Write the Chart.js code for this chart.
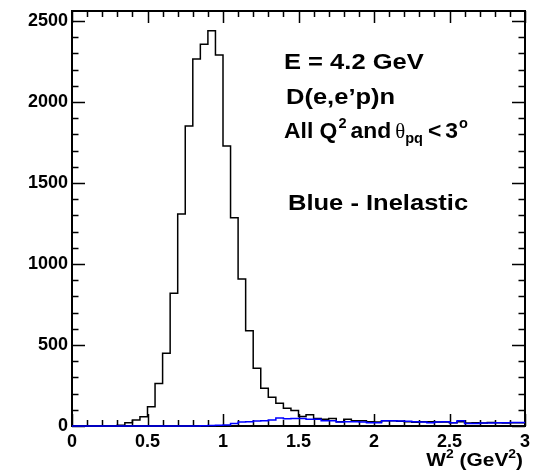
<!DOCTYPE html>
<html>
<head>
<meta charset="utf-8">
<title>W2 distribution</title>
<script src="https://cdn.jsdelivr.net/npm/chart.js@4.4.1/dist/chart.umd.min.js"></script>
<style>
  html, body { margin: 0; padding: 0; background: #fff; }
  canvas { display: block; }
</style>
</head>
<body>
<canvas id="chart" width="538" height="472"></canvas>
<script>
// W^2 histogram, 60 bins of 0.05 GeV^2 from 0 to 3
const binWidth = 0.05;
const xRange = [0, 3];
const yMax = 2562;

const allEvents = [
  0, 0, 0, 0, 0, 2, 5, 20, 37, 57,
  119, 263, 449, 819, 1309, 1852, 2265, 2356, 2440, 2290,
  1728, 1286, 907, 588, 356, 233, 177, 140, 109, 95,
  58, 70, 47, 41, 47, 27, 41, 33, 33, 27,
  25, 33, 33, 29, 27, 23, 27, 27, 25, 25,
  20, 27, 18, 20, 18, 22, 20, 18, 20, 20
];

const inelastic = [
  0, 0, 0, 0, 0, 0, 0, 0, 0, 0,
  0, 0, 0, 0, 0, 0, 0, 2, 3, 4,
  6, 16, 25, 27, 31, 33, 37, 49, 45, 47,
  47, 41, 41, 33, 33, 25, 27, 27, 25, 20,
  20, 33, 33, 31, 29, 27, 25, 20, 25, 27,
  20, 33, 16, 16, 18, 18, 20, 20, 22, 22
];

const xTickLabels = ['0', '0.5', '1', '1.5', '2', '2.5', '3'];
const yTickLabels = ['0', '500', '1000', '1500', '2000', '2500'];

// step points: one per bin low edge, plus the closing upper edge
function toSteps(counts) {
  const pts = counts.map((c, i) => ({ x: i * binWidth, y: c }));
  pts.push({ x: counts.length * binWidth, y: counts[counts.length - 1] });
  return pts;
}

const FONT = '"Liberation Sans", Arial, Helvetica, sans-serif';

// ROOT-style frame with inward ticks on all four sides
const framePlugin = {
  id: 'frame',
  beforeDatasetsDraw(chart) {
    const { ctx, chartArea: a, scales } = chart;
    const xs = scales.x, ys = scales.y;
    ctx.save();
    ctx.strokeStyle = '#000';
    ctx.lineWidth = 2;
    ctx.strokeRect(a.left, a.top, a.right - a.left, a.bottom - a.top);
    ctx.lineWidth = 1.5;
    ctx.beginPath();
    for (let k = 0; k <= 30; k++) {
      const v = k * 0.1;
      const px = Math.round(xs.getPixelForValue(v)) + 0.5;
      const len = k % 5 === 0 ? 12 : 6;
      ctx.moveTo(px, a.bottom); ctx.lineTo(px, a.bottom - len);
      ctx.moveTo(px, a.top); ctx.lineTo(px, a.top + len);
    }
    for (let v = 0; v <= yMax; v += 100) {
      const py = Math.round(ys.getPixelForValue(v)) + 0.5;
      const len = v % 500 === 0 ? 13 : 6.5;
      ctx.moveTo(a.left, py); ctx.lineTo(a.left + len, py);
      ctx.moveTo(a.right, py); ctx.lineTo(a.right - len, py);
    }
    ctx.stroke();
    ctx.restore();
  },
  afterDraw(chart) {
    const { ctx, chartArea: a } = chart;
    ctx.fillStyle = '#000';
    ctx.textBaseline = 'alphabetic';

    // draw a row of text pieces, horizontally stretched like the ROOT fonts
    const advance = (p, sx) => {
      ctx.font = p.font;
      return ctx.measureText(p.t).width * sx + (p.gap || 0);
    };
    const width = (parts, sx) => parts.reduce((w, p) => w + advance(p, sx), 0);
    const runs = (x, y, parts, sx = 1.16) => {
      let cx = x;
      for (const p of parts) {
        ctx.save();
        ctx.translate(cx, y + (p.dy || 0));
        ctx.scale(sx, 1);
        ctx.font = p.font;
        ctx.fillText(p.t, 0, 0);
        ctx.restore();
        cx += advance(p, sx);
      }
    };

    const big = 'bold 22px ' + FONT;
    const small = 'bold 14px ' + FONT;
    runs(284, 69, [{ t: 'E = 4.2 GeV', font: big }]);
    runs(286, 104, [{ t: 'D(e,e\u2019p)n', font: big }]);
    runs(284, 138, [
      { t: 'All Q', font: big, gap: 1 },
      { t: '2', font: small, dy: -10, gap: 4 },
      { t: 'and', font: big, gap: 4 },
      { t: '\u03b8', font: '20px "Liberation Serif", "Times New Roman", serif' },
      { t: 'pq', font: small, dy: 5, gap: 5 },
      { t: '<', font: big, gap: 4 },
      { t: '3', font: big, gap: 1 },
      { t: 'o', font: small, dy: -10 }
    ], 1.04);
    runs(288, 210, [{ t: 'Blue - Inelastic', font: big }]);

    // x-axis title, right aligned to the frame
    const tParts = [
      { t: 'W', font: 'bold 18px ' + FONT },
      { t: '2', font: 'bold 12px ' + FONT, dy: -8 },
      { t: ' (GeV', font: 'bold 18px ' + FONT },
      { t: '2', font: 'bold 12px ' + FONT, dy: -8 },
      { t: ')', font: 'bold 18px ' + FONT }
    ];
    runs(a.right - 2 - width(tParts, 1.16), 466, tParts);
  }
};

new Chart(document.getElementById('chart'), {
  type: 'line',
  data: {
    datasets: [
      {
        label: 'Inelastic',
        data: toSteps(inelastic),
        borderColor: '#0000ff',
        borderWidth: 1.5,
        stepped: 'before',
        pointRadius: 0,
        fill: false,
        clip: 4,
        order: 0
      },
      {
        label: 'All',
        data: toSteps(allEvents),
        borderColor: '#000000',
        borderWidth: 1.5,
        stepped: 'before',
        pointRadius: 0,
        fill: false,
        clip: 4,
        order: 1
      }
    ]
  },
  options: {
    responsive: false,
    animation: false,
    devicePixelRatio: 1,
    layout: { padding: { top: 11, right: 13, left: 0, bottom: 0 } },
    plugins: { legend: { display: false }, tooltip: { enabled: false } },
    scales: {
      x: {
        type: 'linear',
        bounds: 'data',
        min: xRange[0],
        max: xRange[1],
        grid: { display: false, drawTicks: false },
        border: { display: false },
        afterBuildTicks: s => { s.ticks = xTickLabels.map(t => ({ value: parseFloat(t) })); },
        afterFit: s => { s.height = 46; s.paddingLeft = 0; s.paddingRight = 0; },
        ticks: {
          autoSkip: false,
          maxRotation: 0,
          padding: 5,
          color: '#000',
          font: { family: FONT, size: 18, weight: 'bold' },
          callback: (v, i) => xTickLabels[i]
        }
      },
      y: {
        type: 'linear',
        bounds: 'data',
        min: 0,
        max: yMax,
        grid: { display: false, drawTicks: false },
        border: { display: false },
        afterBuildTicks: s => { s.ticks = yTickLabels.map(t => ({ value: parseFloat(t) })); },
        afterFit: s => { s.width = 72; s.paddingTop = 0; s.paddingBottom = 0; },
        ticks: {
          autoSkip: false,
          padding: 4,
          color: '#000',
          font: { family: FONT, size: 18, weight: 'bold' },
          callback: (v, i) => yTickLabels[i]
        }
      }
    }
  },
  plugins: [framePlugin]
});
</script>
</body>
</html>
